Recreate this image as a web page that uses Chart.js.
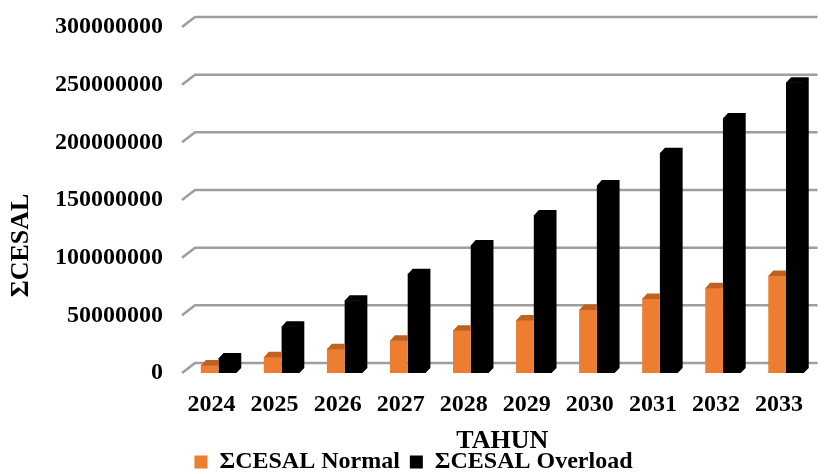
<!DOCTYPE html>
<html>
<head>
<meta charset="utf-8">
<script src="https://cdn.jsdelivr.net/npm/chart.js@4.4.0/dist/chart.umd.min.js"></script>
<style>
    html, body { margin: 0; padding: 0; background: #fff; }
</style>
</head>
<body>
<canvas id="chart" width="827" height="474"></canvas>
<script>
const years = ['2024', '2025', '2026', '2027', '2028', '2029', '2030', '2031', '2032', '2033'];
const cesalNormal = [7e6, 14e6, 21e6, 28.5e6, 37e6, 46e6, 55e6, 64.5e6, 74e6, 84.5e6];
const cesalOverload = [13e6, 40.5e6, 63e6, 86e6, 111e6, 137e6, 163e6, 191e6, 221e6, 252e6];
const yTicks = [0, 50000000, 100000000, 150000000, 200000000, 250000000, 300000000];

const FONT = '"Liberation Serif", "Times New Roman", serif';
const WALL_DX = 13, WALL_DY = 10;   // back wall offset
const BAR_D = 5;                     // bar depth

// back wall gridlines with the little diagonal stub on the left
const backWall = {
    id: 'backWall',
    beforeDatasetsDraw(chart) {
        const { ctx, chartArea, scales: { y } } = chart;
        ctx.save();
        ctx.strokeStyle = '#9e9e9e';
        ctx.lineWidth = 2.5;
        yTicks.forEach(v => {
            const py = y.getPixelForValue(v);
            ctx.beginPath();
            ctx.moveTo(chartArea.left - 5, py);
            ctx.lineTo(chartArea.left - 5 + WALL_DX, py - WALL_DY);
            ctx.lineTo(chartArea.right, py - WALL_DY);
            ctx.stroke();
        });
        ctx.restore();
    }
};

// fake 3D: top face (and right side for the front-most series)
const bars3d = {
    id: 'bars3d',
    afterDatasetDraw(chart, args) {
        const ctx = chart.ctx;
        const idx = args.index;
        ctx.save();
        args.meta.data.forEach(bar => {
            const { x, y, base, width } = bar.getProps(['x', 'y', 'base', 'width'], true);
            const x0 = x - width / 2, x1 = x + width / 2;
            if (idx === 0) {
                ctx.fillStyle = '#c0621f';
                ctx.beginPath();
                ctx.moveTo(x0, y + 0.5);
                ctx.lineTo(x0 + BAR_D, y - BAR_D);
                ctx.lineTo(x1, y - BAR_D);
                ctx.lineTo(x1, y + 0.5);
                ctx.closePath();
                ctx.fill();
            } else {
                ctx.fillStyle = '#000';
                ctx.beginPath();
                ctx.moveTo(x0, y + 0.5);
                ctx.lineTo(x0 + BAR_D, y - BAR_D);
                ctx.lineTo(x1 + BAR_D, y - BAR_D);
                ctx.lineTo(x1 + BAR_D, base - BAR_D);
                ctx.lineTo(x1, base);
                ctx.lineTo(x1 - 1, base);
                ctx.lineTo(x1 - 1, y + 0.5);
                ctx.closePath();
                ctx.fill();
            }
        });
        ctx.restore();
    }
};

new Chart(document.getElementById('chart'), {
    type: 'bar',
    data: {
        labels: years,
        datasets: [{
            label: 'ΣCESAL Normal',
            data: cesalNormal,
            backgroundColor: '#ed7d31',
            borderWidth: 0
        }, {
            label: 'ΣCESAL Overload',
            data: cesalOverload,
            backgroundColor: '#000000',
            borderWidth: 0
        }]
    },
    options: {
        responsive: false,
        animation: false,
        devicePixelRatio: 1,
        categoryPercentage: 0.5625,
        barPercentage: 1,
        layout: { padding: { top: 27, left: 0, right: 0, bottom: -10 } },
        plugins: {
            tooltip: { enabled: false },
            legend: {
                position: 'bottom',
                labels: {
                    boxWidth: 13,
                    boxHeight: 13,
                    padding: 10,
                    color: '#000',
                    font: { family: FONT, size: 24, weight: 'bold' }
                }
            }
        },
        scales: {
            x: {
                offset: true,
                grid: { display: false, drawTicks: false },
                border: { display: false },
                ticks: {
                    color: '#000',
                    padding: 17,
                    labelOffset: -7,
                    maxRotation: 0,
                    autoSkip: false,
                    font: { family: FONT, size: 24, weight: 'bold' }
                },
                title: {
                    display: true,
                    text: 'TAHUN',
                    color: '#000',
                    padding: { top: 0, bottom: -17 },
                    font: { family: FONT, size: 26, weight: 'bold' }
                },
                afterFit: s => { s.height = 67; }
            },
            y: {
                min: 0,
                max: 300000000,
                grid: { display: false, drawTicks: false },
                border: { display: false },
                afterBuildTicks: s => { s.ticks = yTicks.map(v => ({ value: v })); },
                ticks: {
                    color: '#000',
                    padding: 24,
                    callback: v => String(v),
                    font: { family: FONT, size: 24, weight: 'bold' }
                },
                title: {
                    display: true,
                    text: 'ΣCESAL' + ' '.repeat(14),
                    color: '#000',
                    padding: { top: 6, bottom: 0 },
                    font: { family: FONT, size: 26, weight: 'bold' }
                },
                afterFit: s => {
                    s.width = 187;
                    s.paddingTop = 0;
                    s.paddingBottom = 0;
                }
            }
        }
    },
    plugins: [backWall, bars3d]
});
</script>
</body>
</html>
